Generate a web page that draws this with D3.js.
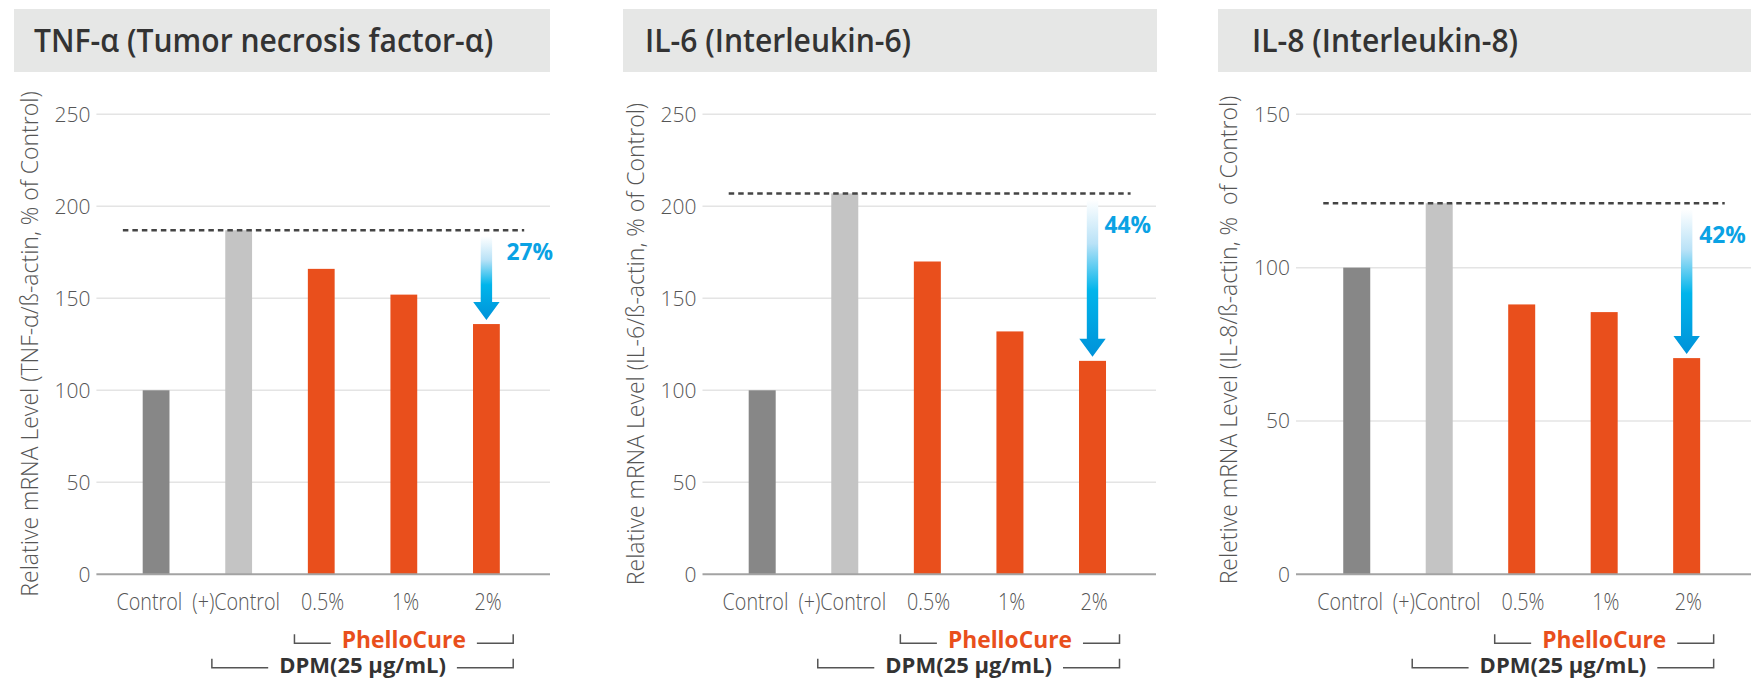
<!DOCTYPE html>
<html>
<head>
<meta charset="utf-8">
<script src="https://cdn.jsdelivr.net/npm/d3@7"></script>
<style>
  html, body { margin: 0; padding: 0; background: #ffffff; }
  svg { display: block; }
  text { font-family: "Open Sans", "Noto Sans", "DejaVu Sans", sans-serif; }
</style>
</head>
<body>
<svg id="chart" width="1751" height="680"></svg>
<script>
// ---- data ----
const categories = ["Control", "(+)Control", "0.5%", "1%", "2%"];
const tnfValues = [100, 187, 166, 152, 136];
const il6Values = [100, 207, 170, 132, 116];
const il8Values = [100, 121, 88, 85.5, 70.5];
const ticks250 = [0, 50, 100, 150, 200, 250];
const ticks150 = [0, 50, 100, 150];
const panelTitles = ["TNF-\u03b1 (Tumor necrosis factor-\u03b1)", "IL-6 (Interleukin-6)", "IL-8 (Interleukin-8)"];
const yTitles = [
  "Relative mRNA Level (TNF-\u03b1/\u00df-actin, % of Control)",
  "Relative mRNA Level (IL-6/\u00df-actin, % of Control)",
  "Reletive mRNA Level (IL-8/\u00df-actin, %  of Control)"
];
const reductionLabels = ["27%", "44%", "42%"];
const productLabel = "PhelloCure";
const productGroup = ["0.5%", "1%", "2%"];
const doseLabel = "DPM(25 \u03bcg/mL)";
const doseGroup = ["(+)Control", "0.5%", "1%", "2%"];

// ---- styling ----
const barColors = { "Control": "#878787", "(+)Control": "#c4c4c4" };
const productColor = "#e94f1c";
const arrowBlue = "#0aa2e4";
const labelShift = [-8, -3, 1.5, 2, 2];

const panels = [
  { values: tnfValues, ticks: ticks250, max: 250, x0: 114.8, x1: 527.7, bw: 26.8,
    gridL: 96.4, gridR: 550, box: [14, 550], titleX: 34, yTitleX: 30, yTitleY: 344, pctDx: 20 },
  { values: il6Values, ticks: ticks250, max: 250, x0: 720.9, x1: 1133.8, bw: 27,
    gridL: 702.5, gridR: 1156, box: [623, 1157], titleX: 645, yTitleX: 636, yTitleY: 344, pctDx: 12 },
  { values: il8Values, ticks: ticks150, max: 150, x0: 1315.5, x1: 1727.9, bw: 27,
    gridL: 1296, gridR: 1751, box: [1218, 1751], titleX: 1252, yTitleX: 1229, yTitleY: 340, pctDx: 12.5 }
];

const yTop = 114.3, yBottom = 574.3;
const svg = d3.select("#chart");
const defs = svg.append("defs");

const grad = defs.append("linearGradient")
  .attr("id", "arrowGrad").attr("x1", 0).attr("y1", 0).attr("x2", 0).attr("y2", 1);
grad.append("stop").attr("offset", "0%").attr("stop-color", "#ffffff");
grad.append("stop").attr("offset", "28%").attr("stop-color", "#b9e2f7");
grad.append("stop").attr("offset", "58%").attr("stop-color", "#00b5eb");
grad.append("stop").attr("offset", "100%").attr("stop-color", "#0092d9");

panels.forEach((p, i) => {
  const g = svg.append("g");
  const step = (p.x1 - p.x0) / categories.length;
  const pi = 1 - p.bw / step;
  const x = d3.scaleBand().domain(categories).range([p.x0, p.x1])
    .paddingInner(pi).paddingOuter(pi / 2);
  const y = d3.scaleLinear().domain([0, p.max]).range([yBottom, yTop]);
  const cx = c => x(c) + x.bandwidth() / 2;

  // title banner
  g.append("rect")
    .attr("x", p.box[0]).attr("y", 9)
    .attr("width", p.box[1] - p.box[0]).attr("height", 63)
    .attr("fill", "#e6e7e6");
  g.append("text")
    .attr("transform", `translate(${p.titleX},52) scale(0.94,1)`)
    .attr("font-size", 32).attr("font-weight", 600).attr("fill", "#333333")
    .text(panelTitles[i]);

  // gridlines
  g.append("g").selectAll("line")
    .data(p.ticks.filter(t => t > 0))
    .join("line")
    .attr("x1", p.gridL).attr("x2", p.gridR)
    .attr("y1", d => y(d)).attr("y2", d => y(d))
    .attr("stroke", "#e4e4e4").attr("stroke-width", 1.5);

  // y axis
  const yAxis = g.append("g")
    .attr("transform", `translate(${p.gridL},0)`)
    .call(d3.axisLeft(y).tickValues(p.ticks).tickSize(0).tickPadding(6));
  yAxis.select(".domain").remove();
  yAxis.selectAll("text")
    .attr("font-size", 21).attr("font-weight", 300).attr("fill", "#555555");

  // y title
  g.append("text")
    .attr("transform", `translate(${p.yTitleX},${p.yTitleY}) rotate(-90)`)
    .attr("text-anchor", "middle").attr("dy", "0.35em")
    .attr("font-size", 23).attr("font-weight", 300).attr("fill", "#555555")
    .style("white-space", "pre")
    .text(yTitles[i]);

  // bars
  g.append("g").selectAll("rect")
    .data(categories.map((c, k) => ({ c, v: p.values[k] })))
    .join("rect")
    .attr("x", d => x(d.c)).attr("width", x.bandwidth())
    .attr("y", d => y(d.v)).attr("height", d => y(0) - y(d.v))
    .attr("fill", d => barColors[d.c] || productColor);

  // baseline
  g.append("line")
    .attr("x1", p.gridL).attr("x2", p.gridR)
    .attr("y1", y(0)).attr("y2", y(0))
    .attr("stroke", "#a3a3a3").attr("stroke-width", 2);

  // x axis labels (narrow set)
  const xAxis = g.append("g")
    .attr("transform", `translate(0,${y(0)})`)
    .call(d3.axisBottom(x).tickSize(0).tickPadding(19));
  xAxis.select(".domain").remove();
  xAxis.selectAll("text")
    .attr("font-size", 23.5).attr("font-weight", 300).attr("fill", "#555555")
    .attr("dx", (d, k) => labelShift[k])
    .attr("transform", "scale(0.84,1)");

  // positive-control reference line
  const posVal = p.values[1];
  const last = categories[categories.length - 1];
  g.append("line")
    .attr("x1", cx(categories[0]) - 1.24 * p.bw).attr("x2", cx(last) + 1.41 * p.bw)
    .attr("y1", y(posVal)).attr("y2", y(posVal))
    .attr("stroke", "#444444").attr("stroke-width", 2.5)
    .attr("stroke-dasharray", "5.5,4");

  // reduction arrow
  const ax = cx(last);
  const aTop = y(posVal) + 6;
  const aTip = y(p.values[p.values.length - 1]) - 4;
  const hTop = aTip - 18;
  const arrow = d3.path();
  arrow.moveTo(ax - 5.7, aTop);
  arrow.lineTo(ax + 5.7, aTop);
  arrow.lineTo(ax + 5.7, hTop);
  arrow.lineTo(ax + 13.2, hTop);
  arrow.lineTo(ax, aTip);
  arrow.lineTo(ax - 13.2, hTop);
  arrow.lineTo(ax - 5.7, hTop);
  arrow.closePath();
  g.append("path").attr("d", arrow.toString()).attr("fill", "url(#arrowGrad)");

  const pctY = y(posVal) + Math.min(40, 0.33 * (aTip - y(posVal)));
  g.append("text")
    .attr("transform", `translate(${ax + p.pctDx},${pctY}) scale(0.95,1)`)
    .attr("font-size", 24).attr("font-weight", 700).attr("fill", arrowBlue)
    .text(reductionLabels[i]);

  // group brackets
  function bracket(group, label, yb, color, size, k) {
    const left = cx(group[0]) - p.bw;
    const right = cx(group[group.length - 1]) + p.bw;
    const mid = (left + right) / 2;
    const t = g.append("text")
      .attr("transform", `translate(${mid},${yb + 5}) scale(${k},1)`)
      .attr("text-anchor", "middle")
      .attr("font-size", size).attr("font-weight", 700).attr("fill", color)
      .text(label);
    const half = t.node().getComputedTextLength() * k / 2 + 11;
    const line = d3.path();
    line.moveTo(left, yb - 9);
    line.lineTo(left, yb);
    line.lineTo(mid - half, yb);
    line.moveTo(mid + half, yb);
    line.lineTo(right, yb);
    line.lineTo(right, yb - 9);
    g.append("path").attr("d", line.toString())
      .attr("fill", "none").attr("stroke", "#555555").attr("stroke-width", 1.5);
  }
  bracket(productGroup, productLabel, 643.3, productColor, 23.5, 0.97);
  bracket(doseGroup, doseLabel, 667.7, "#333333", 22, 1);
});
</script>
</body>
</html>
